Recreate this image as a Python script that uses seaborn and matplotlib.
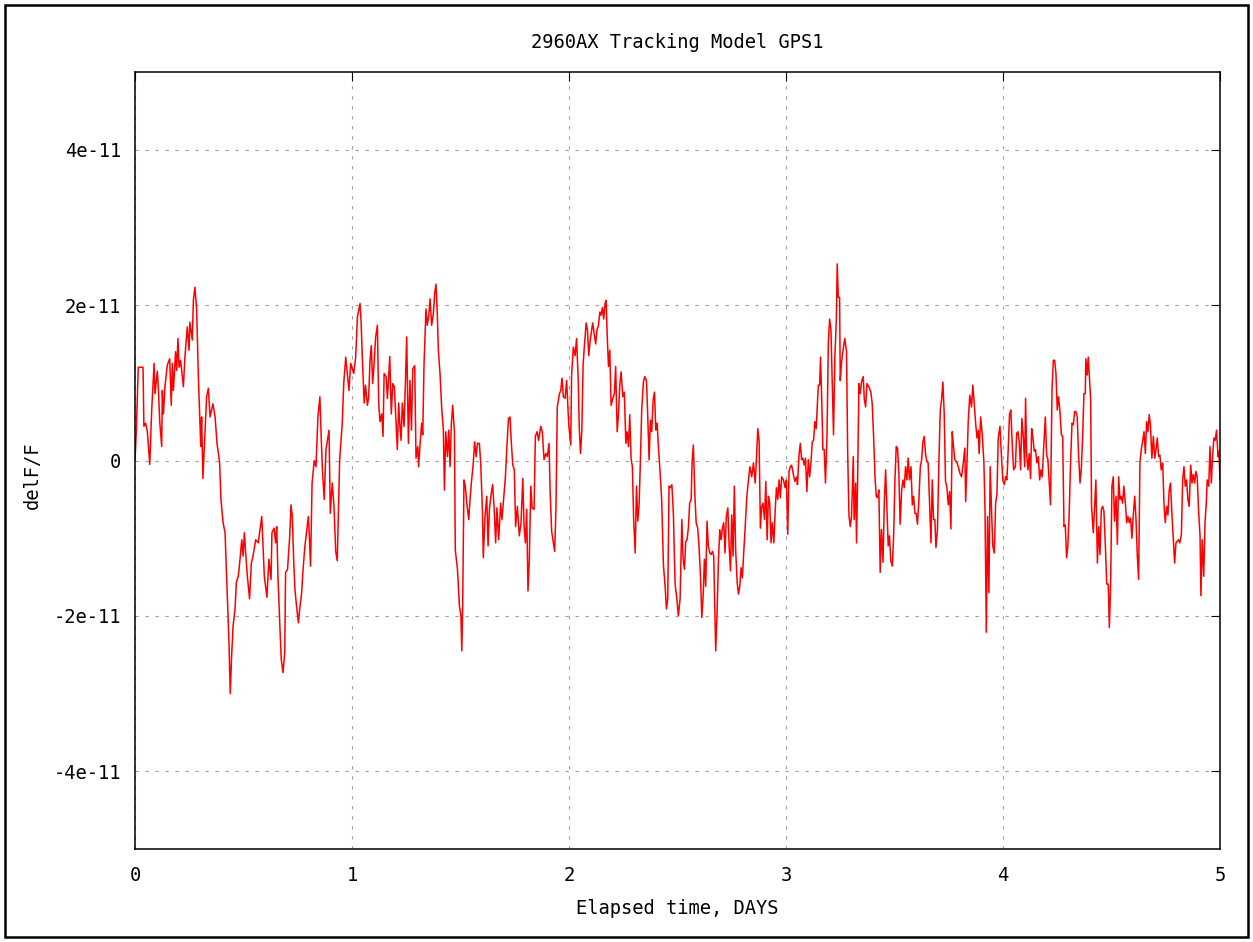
import matplotlib
matplotlib.use("Agg")
import matplotlib.pyplot as plt
from matplotlib.patches import Rectangle
import seaborn as sns
import numpy as np

# delF/F readings (units of 1e-11) against elapsed days, one list per stretch of the run
SCALE = 1e-11

part_a = [
    (0.000, 0.00), (0.006, 0.37), (0.015, 1.20), (0.037, 1.20), (0.041, 0.44), (0.049, 0.48),
    (0.057, 0.37), (0.068, -0.05), (0.077, 0.65), (0.088, 1.25), (0.092, 0.86), (0.103, 1.15),
    (0.108, 0.90), (0.114, 0.50), (0.123, 0.18), (0.126, 0.90), (0.131, 0.60), (0.138, 0.95),
    (0.149, 1.23), (0.160, 1.31), (0.167, 0.71), (0.172, 1.25), (0.177, 0.90), (0.187, 1.40),
    (0.192, 1.16), (0.198, 1.57), (0.203, 1.20), (0.210, 1.29), (0.223, 0.95), (0.230, 1.33),
    (0.241, 1.72), (0.249, 1.42), (0.253, 1.78), (0.264, 1.55), (0.269, 2.06), (0.276, 2.23),
    (0.284, 1.95), (0.292, 1.08), (0.298, 0.59), (0.303, 0.18), (0.307, 0.56), (0.313, -0.23),
    (0.323, 0.39), (0.330, 0.82), (0.338, 0.93), (0.346, 0.56), (0.359, 0.73), (0.369, 0.56),
    (0.378, 0.22), (0.390, -0.03), (0.396, -0.50), (0.406, -0.80), (0.415, -0.93), (0.425, -1.70),
    (0.433, -2.34), (0.439, -3.00), (0.445, -2.53), (0.452, -2.13), (0.461, -1.91), (0.467, -1.57),
    (0.476, -1.49), (0.484, -1.27), (0.492, -1.02), (0.498, -1.23), (0.504, -0.93), (0.510, -1.19),
    (0.518, -1.50), (0.528, -1.78), (0.536, -1.32), (0.544, -1.23), (0.556, -1.02), (0.568, -1.06),
    (0.576, -0.89), (0.584, -0.72), (0.590, -1.10), (0.596, -1.49), (0.608, -1.76), (0.617, -1.27),
    (0.627, -1.53), (0.631, -0.93), (0.641, -0.87), (0.648, -1.06), (0.653, -0.85), (0.659, -1.51),
    (0.667, -2.09), (0.674, -2.56), (0.682, -2.73), (0.690, -2.47), (0.694, -1.44), (0.703, -1.40),
    (0.713, -0.97), (0.719, -0.57), (0.725, -0.72), (0.731, -1.27), (0.737, -1.66), (0.745, -1.89),
    (0.753, -2.09), (0.759, -1.91), (0.768, -1.70), (0.774, -1.42), (0.783, -1.10), (0.799, -0.72),
    (0.803, -0.95), (0.809, -1.36), (0.816, -0.29), (0.826, 0.00), (0.834, -0.08), (0.843, 0.56),
    (0.852, 0.82), (0.857, 0.39), (0.863, -0.08), (0.872, -0.50), (0.880, 0.14), (0.894, 0.39),
    (0.900, -0.68), (0.909, -0.29), (0.917, -0.59), (0.925, -1.17), (0.932, -1.29), (0.937, -0.68),
    (0.943, 0.00), (0.955, 0.48), (0.962, 0.99), (0.971, 1.33), (0.986, 0.90), (0.994, 1.25),
    (1.008, 1.12), (1.017, 1.33), (1.025, 1.85),
]

part_b = [
    (1.037, 2.02), (1.042, 1.78), (1.048, 1.29), (1.056, 0.74), (1.062, 0.97), (1.071, 0.71),
    (1.077, 0.82), (1.083, 1.29), (1.089, 1.48), (1.095, 0.99), (1.102, 1.25), (1.109, 1.59),
    (1.117, 1.74), (1.123, 0.74), (1.129, 0.50), (1.137, 0.60), (1.143, 0.31), (1.148, 1.12),
    (1.157, 1.08), (1.163, 0.80), (1.169, 1.08), (1.174, 1.34), (1.181, 0.60), (1.188, 0.99),
    (1.195, 0.95), (1.201, 0.59), (1.209, 0.14), (1.215, 0.74), (1.221, 0.44), (1.226, 0.26),
    (1.232, 0.74), (1.240, 0.44), (1.246, 0.99), (1.252, 1.59), (1.260, 0.22), (1.267, 1.03),
    (1.274, 0.39), (1.280, 1.18), (1.289, 1.22), (1.295, 0.03), (1.303, 0.18), (1.307, -0.08),
    (1.314, 0.22), (1.321, 0.48), (1.326, 0.33), (1.332, 1.25), (1.341, 1.95), (1.347, 1.74),
    (1.354, 1.87), (1.360, 2.08), (1.367, 1.74), (1.375, 1.89), (1.381, 2.15), (1.387, 2.27),
    (1.393, 1.89), (1.398, 1.42), (1.406, 1.10), (1.413, 0.69), (1.421, 0.39), (1.426, -0.38),
    (1.432, 0.37), (1.440, 0.05), (1.446, 0.39), (1.452, -0.08), (1.458, 0.48), (1.464, 0.71),
    (1.472, 0.37), (1.476, -1.15), (1.486, -1.40), (1.495, -1.87), (1.502, -2.00), (1.506, -2.45),
    (1.510, -1.87), (1.516, -0.25), (1.522, -0.33), (1.529, -0.55), (1.538, -0.76), (1.544, -0.50),
    (1.550, -0.29), (1.559, -0.03), (1.565, 0.24), (1.572, 0.05), (1.578, 0.22), (1.587, 0.22),
    (1.593, -0.03), (1.601, -0.63), (1.605, -1.25), (1.613, -0.72), (1.621, -0.46), (1.627, -1.10),
    (1.633, -0.63), (1.641, -0.44), (1.648, -0.31), (1.655, -0.61), (1.662, -1.06), (1.668, -0.61),
    (1.676, -1.02), (1.685, -0.55), (1.691, -0.76), (1.701, -0.42), (1.707, -0.21), (1.713, 0.14),
    (1.721, 0.54), (1.728, 0.56), (1.734, 0.24), (1.741, -0.06), (1.748, -0.12), (1.754, -0.85),
    (1.762, -0.59), (1.771, -0.97), (1.779, -0.80), (1.787, -0.23), (1.793, -0.85), (1.799, -1.06),
    (1.805, -0.63), (1.811, -1.68), (1.817, -1.29), (1.824, -0.33), (1.830, -0.61), (1.839, -0.63),
    (1.845, 0.31), (1.853, 0.37), (1.860, 0.26), (1.870, 0.44), (1.877, 0.37), (1.885, 0.01),
    (1.893, 0.09), (1.900, 0.05), (1.908, 0.22), (1.913, -0.40), (1.920, -0.91), (1.928, -1.06),
    (1.934, -1.17), (1.940, -0.61), (1.946, 0.69), (1.956, 0.86), (1.962, 0.90), (1.968, 1.06),
    (1.974, 0.82), (1.982, 0.80), (1.989, 1.03), (1.999, 0.46), (2.008, 0.20), (2.012, 1.10),
    (2.020, 1.46), (2.028, 1.35), (2.035, 1.57), (2.043, 0.99),
]

part_c = [
    (2.047, 0.44), (2.053, 0.09), (2.059, 0.37), (2.065, 1.23), (2.071, 1.48), (2.079, 1.77),
    (2.085, 1.68), (2.091, 1.35), (2.097, 1.53), (2.103, 1.65), (2.109, 1.77), (2.117, 1.61),
    (2.123, 1.50), (2.129, 1.68), (2.136, 1.74), (2.142, 1.91), (2.148, 1.87), (2.154, 1.97),
    (2.160, 1.82), (2.166, 2.02), (2.171, 2.06), (2.176, 1.61), (2.182, 1.21), (2.188, 1.42),
    (2.194, 0.71), (2.202, 0.80), (2.209, 0.86), (2.215, 1.21), (2.222, 0.37), (2.228, 0.60),
    (2.234, 0.97), (2.240, 1.14), (2.248, 0.82), (2.255, 0.88), (2.262, 0.22), (2.268, 0.37),
    (2.274, 0.18), (2.280, 0.59), (2.286, 0.03), (2.292, -0.08), (2.298, -0.76), (2.305, -1.19),
    (2.311, -0.33), (2.317, -0.78), (2.323, -0.57), (2.329, -0.01), (2.335, 0.65), (2.343, 1.01),
    (2.349, 1.08), (2.357, 1.03), (2.363, 0.56), (2.369, 0.01), (2.375, 0.52), (2.381, 0.37),
    (2.388, 0.78), (2.394, 0.88), (2.400, 0.39), (2.406, 0.48), (2.412, 0.18), (2.420, -0.16),
    (2.427, -0.50), (2.435, -1.34), (2.443, -1.62), (2.449, -1.91), (2.455, -1.78), (2.461, -0.33),
    (2.467, -0.35), (2.474, -0.31), (2.481, -0.68), (2.489, -1.59), (2.497, -1.78), (2.504, -2.00),
    (2.512, -1.78), (2.520, -0.76), (2.526, -1.27), (2.532, -1.40), (2.538, -1.04), (2.544, -1.02),
    (2.550, -0.87), (2.556, -0.55), (2.563, -0.50), (2.567, -0.03), (2.573, 0.20), (2.580, -0.44),
    (2.586, -0.80), (2.593, -0.87), (2.599, -1.10), (2.606, -1.49), (2.612, -2.02), (2.618, -1.76),
    (2.624, -1.27), (2.630, -1.62), (2.636, -0.78), (2.642, -1.10), (2.649, -1.19), (2.655, -1.21),
    (2.661, -1.17), (2.667, -1.23), (2.673, -2.00), (2.676, -2.45), (2.682, -2.00), (2.689, -1.25),
    (2.695, -0.89), (2.701, -1.02), (2.707, -0.87), (2.713, -0.80), (2.719, -1.19), (2.725, -0.72),
    (2.732, -0.61), (2.738, -1.10), (2.744, -1.42), (2.750, -0.70), (2.756, -1.23), (2.762, -0.33),
    (2.768, -1.15), (2.775, -1.57), (2.781, -1.72), (2.787, -1.62), (2.793, -1.38), (2.799, -1.51),
    (2.805, -1.19), (2.811, -0.91), (2.819, -0.48), (2.827, -0.25), (2.834, -0.08), (2.842, -0.21),
    (2.850, -0.03), (2.858, -0.29), (2.864, 0.03), (2.870, 0.41), (2.876, 0.26), (2.882, -0.87),
    (2.888, -0.59), (2.894, -0.55), (2.901, -0.76), (2.907, -0.27), (2.913, -1.02), (2.919, -0.46),
    (2.925, -0.55), (2.931, -1.06), (2.937, -0.80), (2.944, -1.06), (2.950, -0.65), (2.956, -0.35),
    (2.962, -0.50), (2.968, -0.25), (2.974, -0.48), (2.980, -0.21), (2.988, -0.25), (2.996, -0.35),
    (3.002, -0.25), (3.008, -0.95), (3.014, -0.14), (3.020, -0.08), (3.026, -0.06), (3.036, -0.21),
]

part_d = [
    (3.041, -0.27), (3.049, -0.21), (3.053, -0.31), (3.060, 0.07), (3.066, 0.22), (3.072, 0.01),
    (3.078, 0.03), (3.084, -0.06), (3.090, 0.03), (3.096, -0.40), (3.103, 0.01), (3.109, -0.21),
    (3.115, -0.03), (3.121, 0.24), (3.127, 0.26), (3.133, 0.50), (3.139, 0.41), (3.144, 0.69),
    (3.149, 0.97), (3.155, 0.97), (3.159, 1.33), (3.164, 0.86), (3.170, 0.14), (3.176, 0.14),
    (3.182, -0.29), (3.189, 0.33), (3.195, 1.50), (3.201, 1.82), (3.207, 1.69), (3.213, 1.03),
    (3.219, 0.33), (3.225, 1.31), (3.232, 1.82), (3.236, 2.53), (3.241, 2.10), (3.247, 2.10),
    (3.250, 1.03), (3.256, 1.27), (3.264, 1.44), (3.271, 1.57), (3.279, 1.40), (3.284, 0.14),
    (3.290, -0.70), (3.296, -0.85), (3.302, -0.72), (3.310, 0.05), (3.314, -0.76), (3.321, -0.29),
    (3.325, -1.06), (3.330, -0.25), (3.336, 0.99), (3.342, 0.86), (3.348, 1.01), (3.356, 1.08),
    (3.361, 0.78), (3.367, 0.69), (3.373, 0.99), (3.382, 0.95), (3.391, 0.88), (3.397, 0.74),
    (3.404, 0.29), (3.410, -0.21), (3.416, -0.46), (3.422, -0.48), (3.428, -0.38), (3.434, -1.44),
    (3.440, -0.89), (3.447, -1.31), (3.453, -0.55), (3.459, -0.12), (3.465, -0.59), (3.471, -1.10),
    (3.477, -0.97), (3.483, -1.29), (3.490, -1.36), (3.496, -0.97), (3.502, -0.25), (3.508, 0.18),
    (3.514, 0.16), (3.520, -0.16), (3.526, -0.82), (3.533, -0.38), (3.539, -0.25), (3.545, -0.35),
    (3.551, -0.08), (3.557, -0.25), (3.563, 0.03), (3.569, -0.25), (3.576, -0.08), (3.582, -0.57),
    (3.588, -0.46), (3.594, -0.68), (3.600, -0.68), (3.606, -0.82), (3.612, -0.53), (3.619, -0.08),
    (3.625, 0.01), (3.631, 0.24), (3.637, 0.31), (3.643, 0.09), (3.649, -0.01), (3.655, -0.03),
    (3.662, -0.59), (3.668, -1.06), (3.674, -0.25), (3.680, -0.76), (3.686, -0.76), (3.691, -1.12),
    (3.698, -0.89), (3.705, 0.03), (3.711, 0.65), (3.717, 0.78), (3.723, 1.01), (3.729, 0.61),
    (3.735, -0.27), (3.741, -0.33), (3.748, -0.57), (3.754, -0.40), (3.760, -0.88), (3.766, 0.37),
    (3.772, 0.18), (3.778, 0.01), (3.788, -0.03), (3.794, -0.08), (3.801, -0.16), (3.809, -0.21),
    (3.817, -0.03), (3.824, 0.16), (3.828, -0.53), (3.834, -0.03), (3.840, 0.52), (3.847, 0.84),
    (3.855, 0.69), (3.861, 0.97), (3.867, 0.74), (3.874, 0.48), (3.880, 0.29), (3.886, 0.39),
    (3.890, 0.09), (3.897, 0.56), (3.904, 0.35), (3.912, -0.03), (3.917, -0.61), (3.923, -2.21),
    (3.929, -0.72), (3.935, -1.70), (3.941, -0.08), (3.947, -0.63), (3.953, -1.10), (3.960, -1.19),
    (3.966, -0.55), (3.972, -0.44), (3.978, 0.29), (3.986, 0.44), (3.993, 0.05), (3.999, -0.25),
    (4.006, -0.31), (4.012, -0.21), (4.018, -0.25), (4.024, 0.14), (4.030, 0.59), (4.036, 0.65),
    (4.043, 0.18), (4.049, -0.12),
]

part_e = [
    (4.057, -0.08), (4.063, 0.35), (4.069, 0.37), (4.075, 0.24), (4.081, -0.12), (4.087, 0.54),
    (4.094, 0.29), (4.100, -0.08), (4.104, 0.80), (4.109, 0.09), (4.115, -0.12), (4.121, 0.09),
    (4.127, -0.23), (4.132, 0.41), (4.138, 0.29), (4.144, 0.12), (4.150, 0.14), (4.156, -0.03),
    (4.163, 0.05), (4.169, -0.25), (4.175, -0.12), (4.181, -0.21), (4.187, 0.14), (4.195, 0.56),
    (4.201, 0.07), (4.207, 0.01), (4.213, -0.27), (4.219, -0.57), (4.226, 0.93), (4.232, 1.29),
    (4.238, 1.29), (4.244, 1.12), (4.250, 0.65), (4.256, 0.82), (4.262, 0.65), (4.269, 0.33),
    (4.275, 0.31), (4.281, -0.85), (4.287, -0.83), (4.293, -1.25), (4.299, -1.10), (4.305, -0.68),
    (4.312, 0.03), (4.318, 0.48), (4.324, 0.46), (4.330, 0.63), (4.336, 0.63), (4.342, 0.56),
    (4.348, 0.09), (4.355, -0.29), (4.361, -0.10), (4.367, 0.31), (4.373, 0.86), (4.379, 0.86),
    (4.382, 1.31), (4.388, 1.10), (4.393, 1.33), (4.398, 1.08), (4.404, 0.78), (4.408, -0.59),
    (4.416, -0.93), (4.422, -0.61), (4.428, -0.25), (4.435, -1.32), (4.441, -0.85), (4.447, -1.21),
    (4.453, -0.63), (4.459, -0.59), (4.465, -0.65), (4.471, -1.04), (4.478, -1.59), (4.485, -1.59),
    (4.490, -2.15), (4.496, -1.59), (4.502, -0.33), (4.508, -0.21), (4.514, -0.78), (4.521, -0.46),
    (4.527, -1.08), (4.533, -0.21), (4.539, -0.50), (4.545, -0.46), (4.551, -0.55), (4.557, -0.33),
    (4.564, -0.55), (4.570, -0.80), (4.576, -0.72), (4.582, -0.80), (4.588, -0.74), (4.594, -1.00),
    (4.600, -0.72), (4.607, -0.46), (4.613, -0.76), (4.619, -1.23), (4.625, -1.53), (4.631, -0.03),
    (4.637, 0.14), (4.643, 0.24), (4.650, 0.37), (4.656, 0.09), (4.662, 0.50), (4.668, 0.37),
    (4.674, 0.59), (4.680, 0.44), (4.686, 0.03), (4.693, 0.31), (4.699, 0.03), (4.705, 0.14),
    (4.711, 0.29), (4.717, 0.05), (4.723, 0.07), (4.729, -0.12), (4.736, -0.03), (4.742, -0.57),
    (4.748, -0.80), (4.754, -0.59), (4.760, -0.70), (4.766, -0.38), (4.772, -0.29), (4.779, -0.72),
    (4.785, -1.02), (4.791, -1.32), (4.797, -1.06), (4.803, -1.04), (4.809, -1.02), (4.815, -1.06),
    (4.822, -0.95), (4.828, -0.25), (4.834, -0.08), (4.840, -0.33), (4.846, -0.25), (4.852, -0.50),
    (4.858, -0.59), (4.865, -0.06), (4.871, -0.29), (4.877, -0.18), (4.883, -0.29), (4.889, -0.14),
    (4.895, -0.21), (4.901, -0.63), (4.908, -0.97), (4.912, -1.74), (4.918, -1.02), (4.925, -1.49),
    (4.931, -0.80), (4.937, -0.53), (4.941, -0.25), (4.948, -0.33), (4.954, 0.18), (4.960, -0.29),
    (4.966, 0.07), (4.972, 0.29), (4.978, 0.26), (4.984, 0.39), (4.991, 0.05), (4.995, 0.12),
    (5.000, -0.25),
]

ytick_vals = [-4, -2, 0, 2, 4]
ytick_labels = ['-4e-11', '-2e-11', '0', '2e-11', '4e-11']
xtick_vals = [0, 1, 2, 3, 4, 5]

pts = np.array(part_a + part_b + part_c + part_d + part_e)
days = pts[:, 0]
delf = pts[:, 1] * SCALE

W, H = 1253, 942
sns.set_style('white')
plt.rcParams['font.family'] = ['DejaVu Sans Mono', 'DejaVu Sans']
plt.rcParams['text.color'] = 'black'

fig = plt.figure(figsize=(W / 100, H / 100), dpi=100)
ax = fig.add_axes([135 / W, 1 - 849 / H, (1220 - 135) / W, (849 - 72) / H])

sns.lineplot(x=days, y=delf, ax=ax, color='#ff0000', linewidth=1.1,
             estimator=None, sort=False)

ax.set_xlim(0, 5)
ax.set_ylim(-5e-11, 5e-11)
ax.set_xticks(xtick_vals)
ax.set_xticklabels([str(v) for v in xtick_vals])
ax.set_yticks([v * SCALE for v in ytick_vals])
ax.set_yticklabels(ytick_labels)
ax.grid(True, color='#a0a0a0', linestyle=(0, (3, 6)), linewidth=0.8)
ax.tick_params(direction='in', length=6.5, width=0.8, top=True, right=True,
               labelsize=13.5, colors='black')
ax.tick_params(axis='x', pad=12)
ax.tick_params(axis='y', pad=10)
for sp in ax.spines.values():
    sp.set_color('black')
    sp.set_linewidth(1.1)
ax.set_xlabel('')
ax.set_ylabel('')

ax.set_title('2960AX Tracking Model GPS1', fontsize=13.5, pad=17, color='black')
fig.text(677.5 / W, 1 - 908 / H, 'Elapsed time, DAYS', ha='center', va='center',
         fontsize=13.5, color='black')
fig.text(32 / W, 1 - 475 / H, 'delF/F', ha='center', va='center', rotation=90,
         fontsize=13.5, color='black')

# outer frame round the whole picture
fig.patches.append(Rectangle((5 / W, 5 / H), (W - 10) / W, (H - 10) / H,
                             transform=fig.transFigure, fill=False,
                             edgecolor='black', linewidth=1.8))

fig.savefig('out.png', dpi=100)
